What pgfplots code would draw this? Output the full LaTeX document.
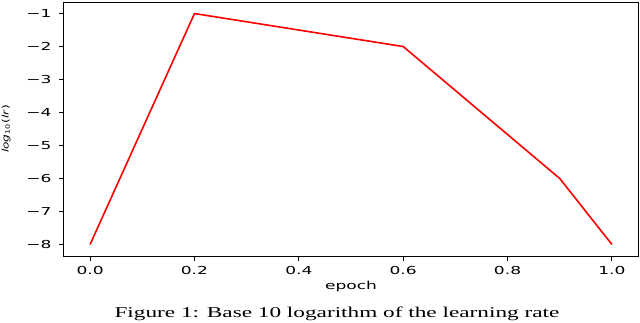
\documentclass[border=0pt]{standalone}
\usepackage{fontspec}
\usepackage{pgfplots}
\pgfplotsset{compat=1.18}
\newfontfamily\tickfont{DejaVu Sans}[FakeStretch=1.55]
\newfontfamily\ylabfont{DejaVu Sans}[FakeStretch=1.35]
\newfontfamily\capfont{Liberation Serif}[FakeStretch=1.55]
\begin{document}
\begin{tikzpicture}[x=1pt,y=1pt]
\path[use as bounding box] (-64,-66) rectangle (576,256);
\begin{axis}[
  at={(0,0)}, anchor=south west,
  scale only axis, width=574pt, height=254pt,
  xmin=-0.05, xmax=1.05, ymin=-8.35, ymax=-0.65,
  xtick={0,0.2,0.4,0.6,0.8,1.0},
  xticklabels={0.0,0.2,0.4,0.6,0.8,1.0},
  ytick={-8,-7,-6,-5,-4,-3,-2,-1},
  yticklabels={−8,−7,−6,−5,−4,−3,−2,−1},
  tick align=outside, major tick length=5pt,
  tick pos=left,
  tick style={black, line width=0.9pt},
  axis line style={line width=1pt},
  ticklabel style={font=\tickfont\fontsize{11}{13}\selectfont},
  yticklabel style={xshift=-4pt},
  xticklabel style={yshift=-1.5pt},
  xlabel={epoch},
  xlabel style={font=\tickfont\fontsize{11}{13}\selectfont, at={(axis description cs:0.5,-0.13)}, anchor=base},
  ylabel={\textit{log}\textsubscript{10}(\textit{lr})},
  ylabel style={font=\ylabfont\fontsize{9}{11}\selectfont, at={(axis description cs:-0.101,0.5)}, anchor=center},
]
\addplot[red, line width=1.6pt, line join=round] coordinates {(0,-8) (0.2,-1) (0.6,-2) (0.9,-6) (1.0,-8)};
\end{axis}
\node[font=\capfont\fontsize{15}{17}\selectfont, anchor=base, inner sep=0pt] at (273,-61) {Figure 1: Base 10 logarithm of the learning rate};
\end{tikzpicture}
\end{document}
